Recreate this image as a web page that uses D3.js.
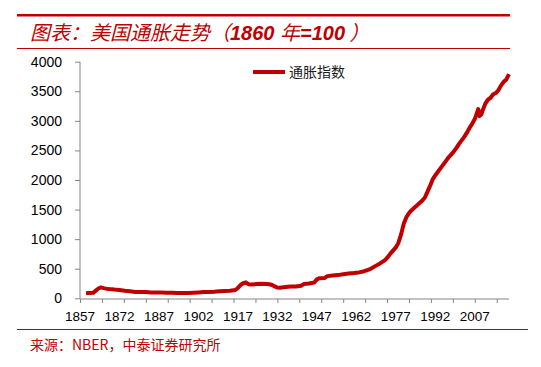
<!DOCTYPE html>
<html>
<head>
<meta charset="utf-8">
<script src="https://cdn.jsdelivr.net/npm/d3@7"></script>
<style>
  body { margin: 0; background: #fff; }
  svg { display: block; }
</style>
</head>
<body>
<div id="chart"></div>
<script>
// 数据（从图上读取，1860年=100）
var years = [1859.3, 1860, 1861, 1862, 1863, 1864, 1865, 1866, 1867, 1868, 1869, 1870, 1872, 1874, 1876, 1878,
  1880, 1882, 1884, 1886, 1888, 1890, 1892, 1894, 1896, 1898, 1900, 1902, 1904, 1906, 1908, 1910, 1912, 1914,
  1916, 1917, 1918, 1919, 1920, 1921, 1922, 1924, 1926, 1928, 1929, 1930, 1931, 1932, 1933, 1935, 1937, 1939,
  1941, 1942, 1944, 1946, 1947, 1948, 1950, 1951, 1953, 1955, 1957, 1959, 1961, 1963, 1965, 1967, 1969, 1971,
  1973, 1974, 1975, 1977, 1978, 1979, 1980, 1981, 1982, 1983, 1984, 1985, 1986, 1987, 1988, 1989, 1990, 1991,
  1992, 1993, 1994, 1995, 1996, 1997, 1998, 1999, 2000, 2001, 2002, 2003, 2004, 2005, 2006, 2007, 2008.3,
  2008.8, 2009.5, 2010, 2011, 2012, 2013, 2014, 2015, 2016, 2017, 2018, 2019, 2020];
var values = [85, 88, 88, 92, 130, 165, 185, 172, 163, 158, 155, 148, 140, 128, 118, 108,
  105, 108, 100, 96, 98, 95, 92, 90, 88, 90, 95, 100, 105, 108, 112, 118, 124, 128,
  140, 175, 225, 255, 270, 238, 232, 240, 244, 242, 238, 225, 200, 182, 178, 190, 200, 198,
  212, 240, 250, 268, 320, 340, 345, 375, 385, 392, 408, 420, 428, 438, 458, 488, 540, 590,
  650, 700, 760, 860, 940, 1080, 1260, 1370, 1440, 1490, 1530, 1570, 1610, 1650, 1700, 1800, 1900, 2010,
  2080, 2140, 2200, 2260, 2320, 2380, 2430, 2480, 2540, 2610, 2670, 2730, 2800, 2880, 2950, 3030, 3200,
  3080, 3110, 3180, 3290, 3360, 3390, 3450, 3470, 3520, 3600, 3660, 3700, 3790];
var seriesName = "通胀指数";
var yTicks = [0, 500, 1000, 1500, 2000, 2500, 3000, 3500, 4000];
var xLabels = [1857, 1872, 1887, 1902, 1917, 1932, 1947, 1962, 1977, 1992, 2007];

var width = 541, height = 367;
var red = "#C00000";

var svg = d3.select("#chart").append("svg")
  .attr("width", width)
  .attr("height", height);

// 标题区
svg.append("line").attr("x1", 17).attr("x2", 510).attr("y1", 15.2).attr("y2", 15.2)
  .style("stroke", red).style("stroke-width", 2.4);
svg.append("line").attr("x1", 17).attr("x2", 510).attr("y1", 48.5).attr("y2", 48.5)
  .style("stroke", red).style("stroke-width", 1);

var title = svg.append("text")
  .attr("x", 30).attr("y", 39.5)
  .style("fill", red)
  .style("font-size", "20px")
  .style("font-style", "italic")
  .style("font-family", "'Noto Sans CJK SC', sans-serif");
title.append("tspan").text("图表：美国通胀走势（");
title.append("tspan").text("1860 ").style("font-weight", "bold").style("font-family", "'Liberation Sans', Arial, sans-serif");
title.append("tspan").text("年");
title.append("tspan").text("=100").style("font-weight", "bold").style("font-family", "'Liberation Sans', Arial, sans-serif");
title.append("tspan").text(" ）");

// 比例尺
var x = d3.scaleLinear().domain([1857, 2020]).range([80, 509]);
var y = d3.scaleLinear().domain([0, 4000]).range([298.3, 61.7]);

// y轴
var yAxis = svg.append("g")
  .attr("transform", "translate(80,0)")
  .call(d3.axisLeft(y).tickValues(yTicks).tickSize(5).tickPadding(13).tickFormat(d3.format("d")));
yAxis.select(".domain").attr("d", "M0," + y(4000) + "V" + (y(0) + 0.5)).style("stroke", "#868686");
yAxis.selectAll(".tick line").style("stroke", "#868686");
yAxis.selectAll("text")
  .style("font-family", "'Liberation Sans', Arial, sans-serif")
  .style("font-size", "14px")
  .style("fill", "#000");

// x轴（每100个月一个刻度，每180个月一个标签）
var tickYears = d3.range(0, 20).map(function(i) { return 1857 + i * 100 / 12; });
var xAxis = svg.append("g")
  .attr("transform", "translate(0," + 299 + ")")
  .call(d3.axisBottom(x).tickValues(tickYears).tickSize(4).tickFormat(""));
xAxis.select(".domain").attr("d", "M80,0H509").style("stroke", "#868686");
xAxis.selectAll(".tick line").style("stroke", "#868686");

svg.append("g").selectAll("text")
  .data(xLabels)
  .enter()
  .append("text")
  .attr("x", function(d) { return x(d); })
  .attr("y", 321)
  .style("text-anchor", "middle")
  .style("font-family", "'Liberation Sans', Arial, sans-serif")
  .style("font-size", "13.5px")
  .style("fill", "#000")
  .text(function(d) { return d; });

// 折线
var data = years.map(function(d, i) { return { year: d, value: values[i] }; });
var line = d3.line()
  .x(function(d) { return x(d.year); })
  .y(function(d) { return y(d.value); });

svg.append("path")
  .datum(data)
  .attr("d", line)
  .style("fill", "none")
  .style("stroke", red)
  .style("stroke-width", 4)
  .style("stroke-linejoin", "round");

// 图例
svg.append("line").attr("x1", 253).attr("x2", 285).attr("y1", 72).attr("y2", 72)
  .style("stroke", red).style("stroke-width", 4);
svg.append("text")
  .attr("x", 289).attr("y", 77)
  .style("font-family", "'Noto Sans CJK SC', sans-serif")
  .style("font-size", "14px")
  .style("fill", "#1a1a1a")
  .text(seriesName);

// 来源
svg.append("line").attr("x1", 17).attr("x2", 528).attr("y1", 329.5).attr("y2", 329.5)
  .style("stroke", red).style("stroke-width", 1);
svg.append("text")
  .attr("x", 30).attr("y", 350)
  .style("font-family", "'Noto Sans CJK SC', sans-serif")
  .style("font-size", "14px")
  .style("fill", red)
  .text("来源：NBER，中泰证券研究所");
</script>
</body>
</html>
